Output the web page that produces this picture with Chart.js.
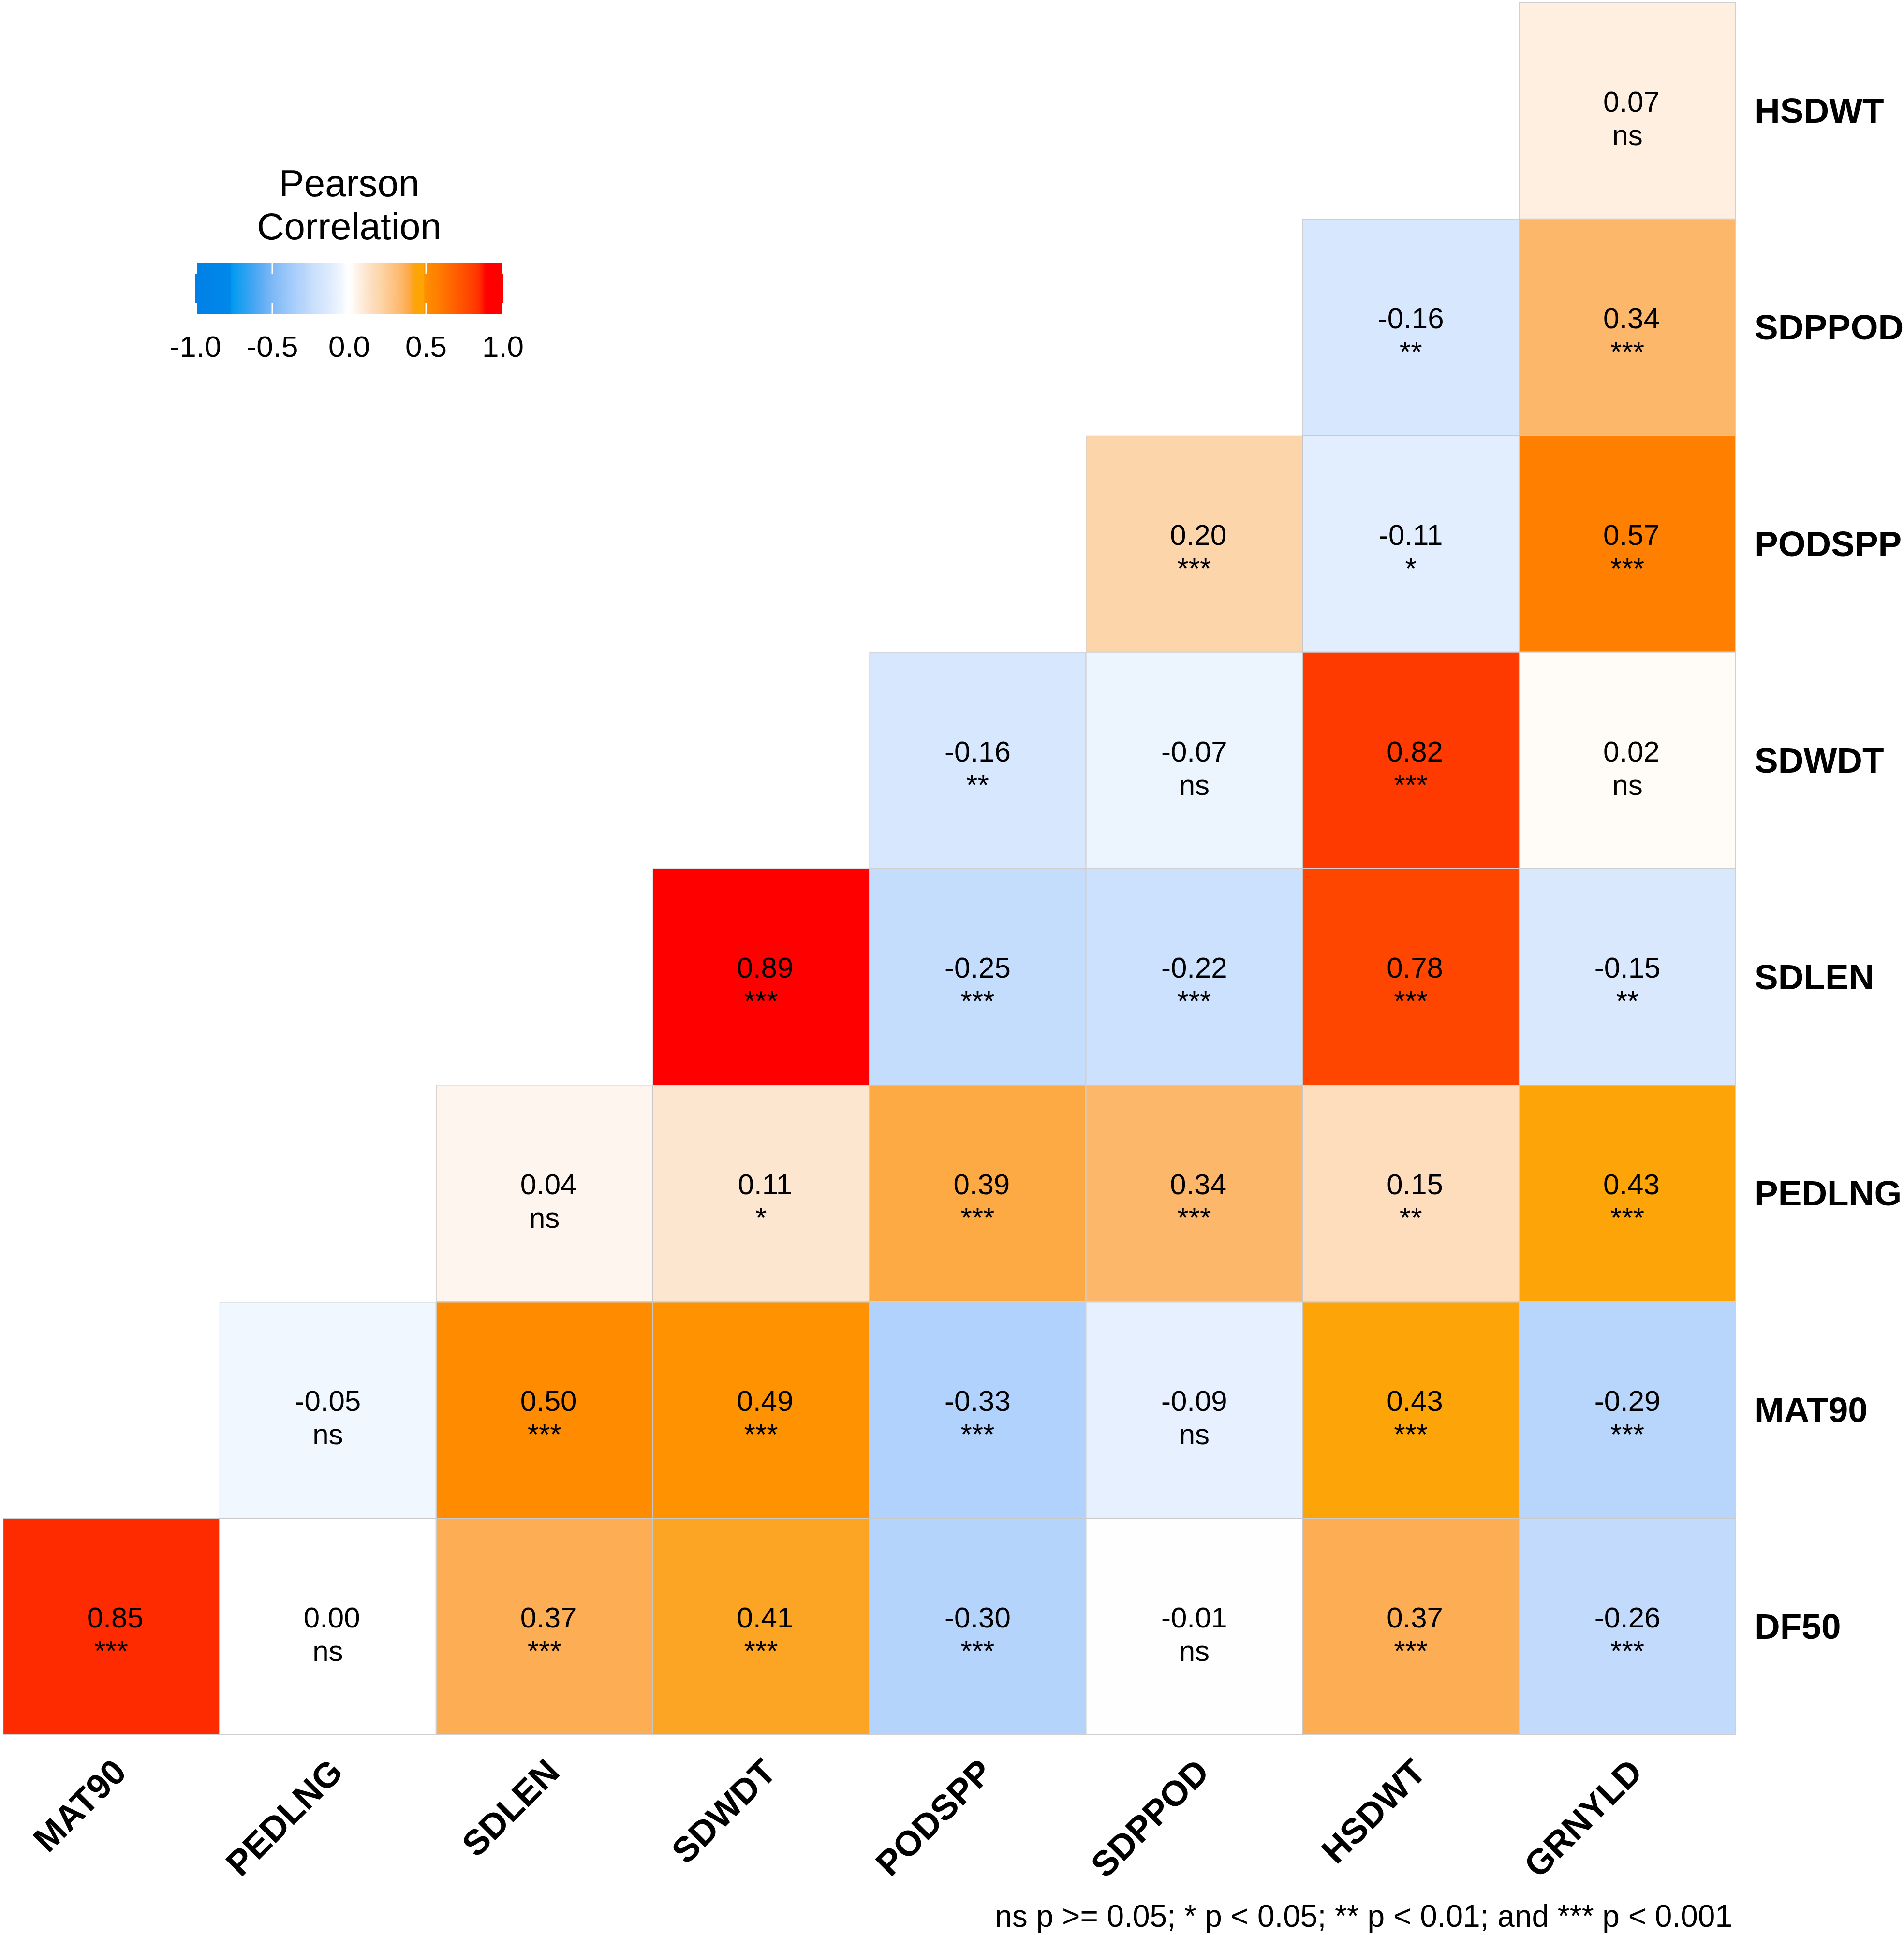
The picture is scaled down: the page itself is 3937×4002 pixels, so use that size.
<!DOCTYPE html>
<html>
<head>
<meta charset="utf-8">
<script src="https://cdn.jsdelivr.net/npm/chart.js@4.4.1/dist/chart.umd.min.js"></script>
<style>
html,body{margin:0;padding:0;background:#ffffff;}
canvas{display:block;}
</style>
</head>
<body>
<canvas id="c" width="3937" height="4002" style="width:3937px;height:4002px"></canvas>
<script>
// ---------- DATA ----------
const columns = ['MAT90','PEDLNG','SDLEN','SDWDT','PODSPP','SDPPOD','HSDWT','GRNYLD'];
const rows    = ['DF50','MAT90','PEDLNG','SDLEN','SDWDT','PODSPP','SDPPOD','HSDWT']; // bottom -> top

const corrDF50   = [0.85, 0.00, 0.37, 0.41, -0.30, -0.01, 0.37, -0.26];
const corrMAT90  = [null, -0.05, 0.50, 0.49, -0.33, -0.09, 0.43, -0.29];
const corrPEDLNG = [null, null, 0.04, 0.11, 0.39, 0.34, 0.15, 0.43];
const corrSDLEN  = [null, null, null, 0.89, -0.25, -0.22, 0.78, -0.15];
const corrSDWDT  = [null, null, null, null, -0.16, -0.07, 0.82, 0.02];
const corrPODSPP = [null, null, null, null, null, 0.20, -0.11, 0.57];
const corrSDPPOD = [null, null, null, null, null, null, -0.16, 0.34];
const corrHSDWT  = [null, null, null, null, null, null, null, 0.07];

const sigDF50   = ['***','ns','***','***','***','ns','***','***'];
const sigMAT90  = [null,'ns','***','***','***','ns','***','***'];
const sigPEDLNG = [null,null,'ns','*','***','***','**','***'];
const sigSDLEN  = [null,null,null,'***','***','***','***','**'];
const sigSDWDT  = [null,null,null,null,'**','ns','***','ns'];
const sigPODSPP = [null,null,null,null,null,'***','*','***'];
const sigSDPPOD = [null,null,null,null,null,null,'**','***'];
const sigHSDWT  = [null,null,null,null,null,null,null,'ns'];

const legendTicks = [-1.0, -0.5, 0.0, 0.5, 1.0];
const legendTitle = ['Pearson', 'Correlation'];
const footnote = 'ns p >= 0.05; * p < 0.05; ** p < 0.01; and *** p < 0.001';

const corrRows = [corrDF50, corrMAT90, corrPEDLNG, corrSDLEN, corrSDWDT, corrPODSPP, corrSDPPOD, corrHSDWT];
const sigRows  = [sigDF50, sigMAT90, sigPEDLNG, sigSDLEN, sigSDWDT, sigPODSPP, sigSDPPOD, sigHSDWT];

// ---------- STYLE ----------
const FONT = '"Liberation Sans", Arial, Helvetica, sans-serif';
const colorStops = [
  [-1.00,   0,128,230],
  [-0.77,   0,136,234],
  [-0.765,  0,154,240],
  [-0.62,  70,166,243],
  [-0.50, 125,184,246],
  [-0.33, 176,210,252],
  [-0.30, 181,212,251],
  [-0.25, 197,221,252],
  [-0.22, 204,225,253],
  [-0.16, 215,231,253],
  [-0.09, 230,240,254],
  [-0.05, 241,247,254],
  [-0.015,253,254,255],
  [ 0.00, 255,255,255],
  [ 0.02, 255,251,247],
  [ 0.04, 253,245,238],
  [ 0.07, 254,239,224],
  [ 0.11, 253,230,208],
  [ 0.15, 253,221,188],
  [ 0.20, 253,213,171],
  [ 0.34, 253,183,106],
  [ 0.37, 253,174,85],
  [ 0.39, 253,170,69],
  [ 0.41, 252,165,36],
  [ 0.43, 253,164,8],
  [ 0.485,255,165,0],
  [ 0.49, 255,146,0],
  [ 0.50, 255,140,0],
  [ 0.57, 255,128,0],
  [ 0.78, 255,70,0],
  [ 0.82, 255,58,0],
  [ 0.85, 255,43,0],
  [ 0.89, 255,0,0],
  [ 1.00, 255,0,0]
];
function colorFor(v) {
  if (v <= colorStops[0][0]) { const s = colorStops[0]; return `rgb(${s[1]},${s[2]},${s[3]})`; }
  for (let i = 1; i < colorStops.length; i++) {
    const a = colorStops[i-1], b = colorStops[i];
    if (v <= b[0]) {
      const t = (v - a[0]) / (b[0] - a[0]);
      const r = Math.round(a[1] + (b[1]-a[1])*t);
      const g = Math.round(a[2] + (b[2]-a[2])*t);
      const bl = Math.round(a[3] + (b[3]-a[3])*t);
      return `rgb(${r},${g},${bl})`;
    }
  }
  const s = colorStops[colorStops.length-1]; return `rgb(${s[1]},${s[2]},${s[3]})`;
}
function fmt(v) { return (v >= 0 ? ' ' : '') + v.toFixed(2); }

// ---------- DATASETS (one per row, floating bars spanning the row) ----------
const datasets = rows.map((name, r) => ({
  label: name,
  data: corrRows[r].map(v => v === null ? null : [r, r + 1]),
  backgroundColor: (ctx) => {
    const v = corrRows[ctx.datasetIndex][ctx.dataIndex];
    return v === null ? 'rgba(0,0,0,0)' : colorFor(v);
  },
  borderColor: 'rgba(150,150,150,0.45)',
  borderWidth: 1.5,
  borderSkipped: false,
  grouped: false,
  barPercentage: 1.0,
  categoryPercentage: 1.0
}));

// ---------- PLUGINS ----------
const cellText = {
  id: 'cellText',
  afterDatasetsDraw(chart) {
    const ctx = chart.ctx;
    ctx.save();
    ctx.fillStyle = '#000000';
    ctx.textAlign = 'center';
    ctx.textBaseline = 'alphabetic';
    ctx.font = `60px ${FONT}`;
    chart.data.datasets.forEach((ds, di) => {
      const meta = chart.getDatasetMeta(di);
      meta.data.forEach((el, j) => {
        const v = corrRows[di][j];
        if (v === null || v === undefined) return;
        const cx = el.x;
        const cy = (el.y + el.base) / 2;
        ctx.fillText(fmt(v), cx, cy + 2);
        ctx.fillText(sigRows[di][j], cx, cy + 71);
      });
    });
    ctx.restore();
  }
};

const legendAndNote = {
  id: 'legendAndNote',
  afterDraw(chart) {
    const ctx = chart.ctx;
    ctx.save();
    // colourbar
    const x0 = 404, x1 = 1040, y0 = 543, y1 = 650;
    const grad = ctx.createLinearGradient(x0, 0, x1, 0);
    const N = 400;
    for (let i = 0; i <= N; i++) {
      const v = -1 + 2 * i / N;
      grad.addColorStop(i / N, colorFor(v));
    }
    ctx.fillStyle = grad;
    ctx.fillRect(x0, y0, x1 - x0, y1 - y0);
    // white tick marks
    ctx.strokeStyle = '#ffffff';
    ctx.lineWidth = 3;
    const tl = 24;
    legendTicks.forEach(t => {
      let x = x0 + (t + 1) / 2 * (x1 - x0);
      if (t <= -1) x += 1.5;
      if (t >= 1) x -= 1.5;
      ctx.beginPath();
      ctx.moveTo(x, y0); ctx.lineTo(x, y0 + tl);
      ctx.moveTo(x, y1 - tl); ctx.lineTo(x, y1);
      ctx.stroke();
    });
    // tick labels
    ctx.fillStyle = '#000000';
    ctx.textAlign = 'center';
    ctx.textBaseline = 'alphabetic';
    ctx.font = `62px ${FONT}`;
    legendTicks.forEach(t => {
      const x = x0 + (t + 1) / 2 * (x1 - x0);
      ctx.fillText(t.toFixed(1), x, 738);
    });
    // title
    ctx.font = `78px ${FONT}`;
    const cx = (x0 + x1) / 2;
    ctx.fillText(legendTitle[0], cx, 406);
    ctx.fillText(legendTitle[1], cx, 495);
    // footnote
    ctx.textAlign = 'right';
    ctx.font = `64px ${FONT}`;
    ctx.fillText(footnote, 3582, 3985);
    ctx.restore();
  }
};

// ---------- CHART ----------
const boldTick = { family: FONT, size: 73, weight: 'bold' };
new Chart(document.getElementById('c'), {
  type: 'bar',
  data: { labels: columns, datasets },
  options: {
    responsive: false,
    animation: false,
    devicePixelRatio: 1,
    layout: { padding: { left: 6, top: 5, right: 0, bottom: 0 } },
    plugins: { legend: { display: false }, tooltip: { enabled: false }, title: { display: false } },
    scales: {
      x: {
        type: 'category',
        offset: true,
        grid: { display: false, drawTicks: false },
        border: { display: false },
        ticks: {
          autoSkip: false, minRotation: 45, maxRotation: 45,
          padding: 36, labelOffset: 21, color: '#000000', font: boldTick
        },
        afterFit(s) { s.height = 414; s.paddingLeft = 0; s.paddingRight = 0; }
      },
      y: {
        type: 'linear',
        position: 'right',
        min: 0, max: 8,
        grid: { display: false, drawTicks: false },
        border: { display: false },
        afterBuildTicks(s) { s.ticks = rows.map((n, i) => ({ value: i + 0.5 })); },
        ticks: {
          padding: 39, labelOffset: 5, color: '#000000', font: boldTick,
          callback: (v) => rows[Math.round(v - 0.5)]
        },
        afterFit(s) { s.width = 348; s.paddingTop = 0; s.paddingBottom = 0; }
      }
    }
  },
  plugins: [cellText, legendAndNote]
});
</script>
</body>
</html>
